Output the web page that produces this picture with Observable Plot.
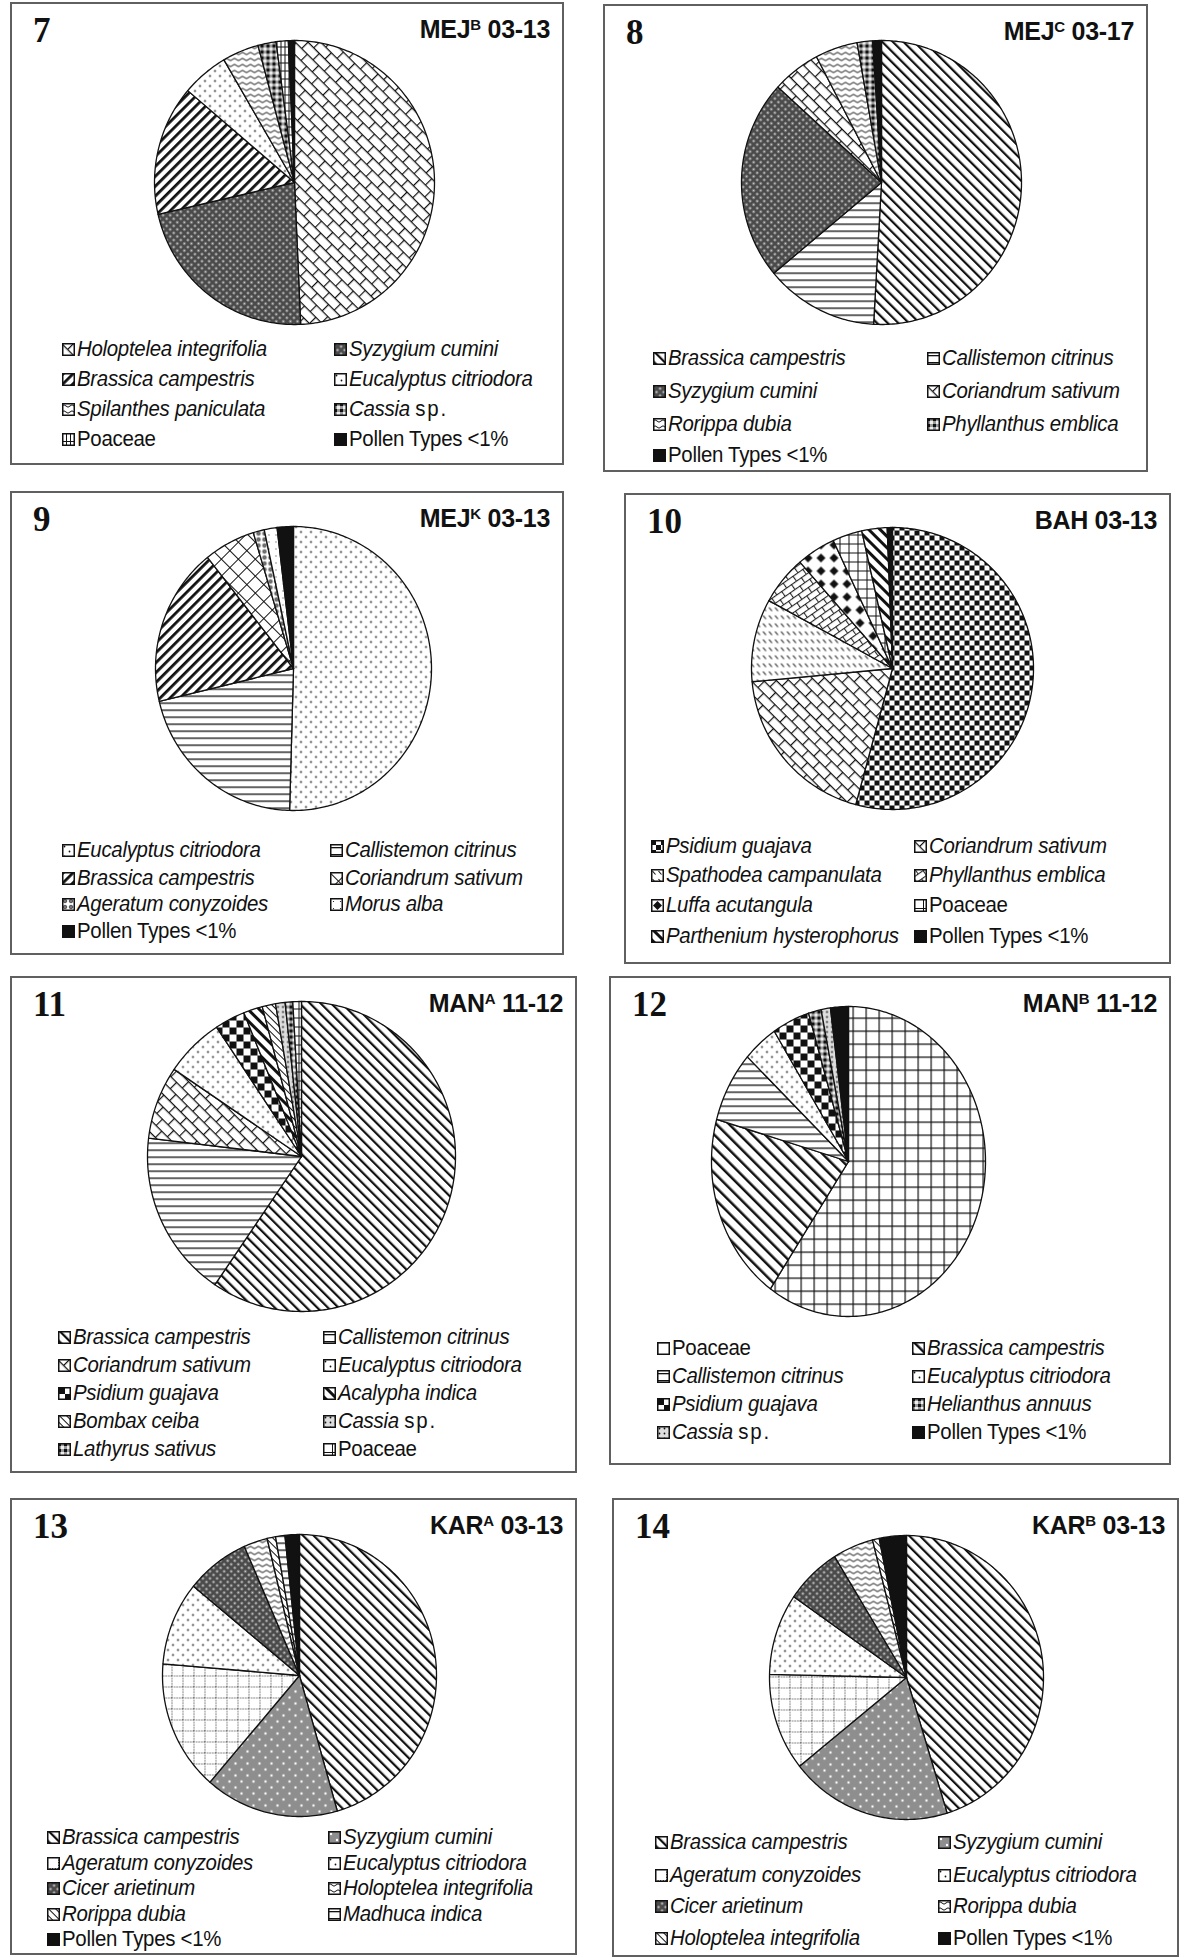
<!DOCTYPE html>
<html>
<head>
<meta charset="utf-8">
<script src="https://cdn.jsdelivr.net/npm/d3@7"></script>
<script src="https://cdn.jsdelivr.net/npm/@observablehq/plot@0.6"></script>
<style>
  body { margin: 0; background: #fff; }
  #page { position: relative; width: 1195px; height: 1957px; background: #fff; overflow: hidden; }
  .box { position: absolute; box-sizing: border-box; border: 2px solid #606060; background: #fff; }
  .num { position: absolute; font-family: "Liberation Serif", "Times New Roman", serif; font-weight: bold; font-size: 35px; line-height: 1; color: #111; }
  .site { position: absolute; font-family: "Liberation Sans", Arial, sans-serif; font-weight: bold; font-size: 25px; line-height: 1; color: #111; white-space: nowrap; letter-spacing: -0.3px; }
  .site sup { font-size: 15px; vertical-align: 0; position: relative; top: -8px; }
  .pie { position: absolute; }
  .leg { position: absolute; display: flex; align-items: center; white-space: nowrap; font-family: "Liberation Sans", Arial, sans-serif; font-size: 21.5px; color: #111; line-height: 1; }
  .leg svg { flex: none; margin-right: 2px; }
  .leg .txt { display: inline-block; transform: scaleX(0.95); transform-origin: 0 50%; letter-spacing: -0.3px; }
  .leg .sp { font-style: normal; letter-spacing: 2px; }
</style>
</head>
<body>
<div id="page"></div>
<script>
// ---------------- DATA ----------------
const panelNumbers = ["7", "8", "9", "10", "11", "12", "13", "14"];
const siteCodes = ["MEJ", "MEJ", "MEJ", "BAH", "MAN", "MAN", "KAR", "KAR"];
const siteSuperscripts = ["B", "C", "K", "", "A", "B", "A", "B"];
const periods = ["03-13", "03-17", "03-13", "03-13", "11-12", "11-12", "03-13", "03-13"];

const p7Taxa = ["Holoptelea integrifolia", "Syzygium cumini", "Brassica campestris", "Eucalyptus citriodora", "Spilanthes paniculata", "Cassia sp.", "Poaceae", "Pollen Types <1%"];
const p7Percent = [49.3, 22.1, 14.8, 5.4, 4.2, 2.1, 1.4, 0.7];

const p8Taxa = ["Brassica campestris", "Callistemon citrinus", "Syzygium cumini", "Coriandrum sativum", "Rorippa dubia", "Phyllanthus emblica", "Pollen Types <1%"];
const p8Percent = [51.0, 13.1, 22.8, 5.6, 4.9, 1.8, 1.0];

const p9Taxa = ["Eucalyptus citriodora", "Callistemon citrinus", "Brassica campestris", "Coriandrum sativum", "Ageratum conyzoides", "Morus alba", "Pollen Types <1%"];
const p9Percent = [50.4, 20.8, 18.0, 6.0, 1.3, 1.5, 1.9];

const p10Taxa = ["Psidium guajava", "Coriandrum sativum", "Spathodea campanulata", "Phyllanthus emblica", "Luffa acutangula", "Poaceae", "Parthenium hysterophorus", "Pollen Types <1%"];
const p10Percent = [54.2, 19.3, 9.5, 5.6, 4.5, 3.4, 2.9, 0.6];

const p11Taxa = ["Brassica campestris", "Callistemon citrinus", "Coriandrum sativum", "Eucalyptus citriodora", "Psidium guajava", "Acalypha indica", "Bombax ceiba", "Cassia sp.", "Lathyrus sativus", "Poaceae"];
const p11Percent = [59.5, 17.4, 7.6, 6.2, 3.2, 2.0, 1.4, 1.0, 0.8, 0.9];

const p12Taxa = ["Poaceae", "Brassica campestris", "Callistemon citrinus", "Eucalyptus citriodora", "Psidium guajava", "Helianthus annuus", "Cassia sp.", "Pollen Types <1%"];
const p12Percent = [59.6, 19.7, 7.4, 4.1, 4.4, 1.5, 1.1, 2.1];

const p13Taxa = ["Brassica campestris", "Syzygium cumini", "Ageratum conyzoides", "Eucalyptus citriodora", "Cicer arietinum", "Holoptelea integrifolia", "Rorippa dubia", "Madhuca indica", "Pollen Types <1%"];
const p13Percent = [45.6, 15.8, 15.0, 9.6, 7.5, 2.8, 1.0, 1.1, 1.7];

const p14Taxa = ["Brassica campestris", "Syzygium cumini", "Ageratum conyzoides", "Eucalyptus citriodora", "Cicer arietinum", "Rorippa dubia", "Holoptelea integrifolia", "Pollen Types <1%"];
const p14Percent = [45.3, 19.1, 11.1, 9.3, 6.6, 4.8, 0.8, 3.2];

// ---------------- STYLES (fill patterns per slice) ----------------
const p7Fills = ["brick", "crossDark", "diagUpBold", "dots", "wavy", "checkGrey", "gridSmall", "black"];
const p8Fills = ["diagDown", "hlines", "crossDark", "brick", "wavy", "checkGrey", "black"];
const p9Fills = ["dots", "hlines", "diagUpBold", "lattice", "circles", "sparse", "black"];
const p10Fills = ["checkSmall", "brick", "dashes", "brickSmall", "diamonds", "grid", "diagDownBold", "black"];
const p11Fills = ["diagDown", "hlines", "brick", "dots", "checker", "diagDownBold", "diagDownThin", "dotCol", "checkGrey", "grid"];
const p12Fills = ["gridLarge", "diagDownWide", "hlines", "dots", "checker", "checkGrey", "dotCol", "black"];
const p13Fills = ["diagDown", "greyDots", "dotGrid", "dots", "crossDark", "wavy", "diagDownThin", "hlines", "black"];
const p14Fills = ["diagDown", "greyDots", "dotGrid", "dots", "crossDark", "wavy", "diagDownThin", "black"];

// ---------------- LAYOUT ----------------
const boxes = [
  [10, 2, 554, 463], [603, 4, 545, 468],
  [10, 491, 554, 464], [624, 493, 547, 471],
  [10, 976, 567, 497], [609, 976, 562, 489],
  [10, 1498, 567, 457], [612, 1498, 567, 459]
];
const pieGeom = [
  [282, 178, 140, 142], [276, 176, 140, 142],
  [281, 175, 138, 142], [266, 173, 141, 141],
  [289, 178, 154, 155], [237, 183, 137, 155],
  [287, 175, 137, 141], [292, 177, 137, 142]
];
const legendRows = [
  [346, 376, 406, 436], [353, 386, 419, 450],
  [358, 386, 412, 439], [352, 381, 411, 442],
  [360, 388, 416, 444, 472], [371, 399, 427, 455],
  [338, 364, 389, 415, 440], [343, 376, 407, 439]
];
const legendCols = [[50, 322], [48, 322], [50, 318], [25, 288], [46, 311], [46, 301], [35, 316], [41, 324]];

// ---------------- PATTERNS ----------------
function pat(id, w, h, content, transform) {
  return `<pattern id="${id}" width="${w}" height="${h}" patternUnits="userSpaceOnUse"${transform ? ` patternTransform="${transform}"` : ""}><rect width="${w}" height="${h}" fill="#fff"/>${content}</pattern>`;
}
const K = "#111";
const patternDefs = [
  pat("brick", 16, 18, `<path d="M0 0.6H16M0 9.6H16M0.6 0V9M8.6 9V18" stroke="${K}" stroke-width="1.2" fill="none"/>`, "rotate(45)"),
  pat("brickSmall", 12, 12, `<path d="M0 0.6H12M0 6.6H12M0.6 0V6M6.6 6V12" stroke="${K}" stroke-width="1" fill="none"/>`, "rotate(-35)"),
  pat("crossDark", 5, 5, `<rect width="5" height="5" fill="#4a4a4a"/><rect x="1.5" y="1.5" width="2" height="2" fill="#d0d0d0"/>`, "rotate(45)"),
  pat("diagUpBold", 7, 7, `<rect width="2.8" height="7" fill="${K}"/>`, "rotate(45)"),
  pat("diagDown", 7.5, 7.5, `<rect width="2.2" height="7.5" fill="${K}"/>`, "rotate(-45)"),
  pat("diagDownWide", 9, 9, `<rect width="2.5" height="9" fill="${K}"/>`, "rotate(-45)"),
  pat("diagDownBold", 8, 8, `<rect width="3" height="8" fill="${K}"/>`, "rotate(-45)"),
  pat("diagDownThin", 5, 5, `<rect width="1" height="5" fill="${K}"/>`, "rotate(-45)"),
  pat("dots", 10, 10, `<circle cx="2.5" cy="2.5" r="0.9" fill="${K}"/><circle cx="7.5" cy="7.5" r="0.9" fill="${K}"/>`),
  pat("sparse", 7, 7, `<circle cx="3.5" cy="3.5" r="0.6" fill="${K}"/>`),
  pat("wavy", 8, 6, `<path d="M0 3 Q2 0.6 4 3 T8 3" fill="none" stroke="${K}" stroke-width="1"/>`),
  pat("hlines", 8, 7, `<rect y="3" width="8" height="1.3" fill="${K}"/>`),
  pat("grid", 9, 9, `<path d="M0 0.5H9M0.5 0V9" stroke="${K}" stroke-width="1" fill="none"/>`),
  pat("gridLarge", 13, 13, `<path d="M0 0.6H13M0.6 0V13" stroke="${K}" stroke-width="1.2" fill="none"/>`),
  pat("gridSmall", 4, 8, `<path d="M0 0.5H4M0.5 0V8" stroke="${K}" stroke-width="1" fill="none"/>`),
  pat("checker", 14, 14, `<rect width="7" height="7" fill="${K}"/><rect x="7" y="7" width="7" height="7" fill="${K}"/>`),
  pat("checkSmall", 10, 10, `<rect width="5" height="5" fill="${K}"/><rect x="5" y="5" width="5" height="5" fill="${K}"/>`),
  pat("checkGrey", 6, 6, `<rect width="6" height="6" fill="#9a9a9a"/><rect width="3" height="3" fill="${K}"/><rect x="3" y="3" width="3" height="3" fill="#eee"/>`),
  pat("diamonds", 13, 13, `<polygon points="6.5,2 11,6.5 6.5,11 2,6.5" fill="${K}"/>`),
  pat("dashes", 6, 8, `<line x1="1.5" y1="2" x2="4.5" y2="5.5" stroke="${K}" stroke-width="1.1"/>`),
  pat("lattice", 12, 12, `<path d="M0 0.5H12M0.5 0V12" stroke="${K}" stroke-width="1" fill="none"/>`, "rotate(45)"),
  pat("circles", 6, 6, `<circle cx="3" cy="3" r="1.8" fill="#777" stroke="${K}" stroke-width="0.6"/>`),
  pat("dotCol", 5, 5, `<rect width="5" height="5" fill="#ddd"/><circle cx="2.5" cy="2.5" r="0.9" fill="${K}"/>`),
  pat("greyDots", 12, 12, `<rect width="12" height="12" fill="#8e8e8e"/><circle cx="3" cy="3" r="1.2" fill="#fff"/><circle cx="9" cy="9" r="1.2" fill="#fff"/>`),
  pat("dotGrid", 11, 11, `<path d="M0 0.5H11M0.5 0V11" stroke="${K}" stroke-width="1" stroke-dasharray="1 1.6" fill="none"/>`),
  pat("black", 4, 4, `<rect width="4" height="4" fill="${K}"/>`)
].join("");

document.body.insertAdjacentHTML("afterbegin",
  `<svg width="0" height="0" style="position:absolute;left:0;top:0"><defs>${patternDefs}</defs></svg>`);

// ---------------- BUILD ----------------
const panels = [
  [p7Taxa, p7Percent, p7Fills], [p8Taxa, p8Percent, p8Fills],
  [p9Taxa, p9Percent, p9Fills], [p10Taxa, p10Percent, p10Fills],
  [p11Taxa, p11Percent, p11Fills], [p12Taxa, p12Percent, p12Fills],
  [p13Taxa, p13Percent, p13Fills], [p14Taxa, p14Percent, p14Fills]
];

const page = document.getElementById("page");

function labelHTML(name) {
  if (name === "Poaceae" || name.startsWith("Pollen")) return name.replace("<", "&lt;");
  if (name.endsWith(" sp.")) return `<i>${name.slice(0, -4)}</i> <span class="sp">sp.</span>`;
  return `<i>${name}</i>`;
}

panels.forEach(([taxa, values, fills], i) => {
  const [bx, by, bw, bh] = boxes[i];
  const box = document.createElement("div");
  box.className = "box";
  Object.assign(box.style, {left: bx + "px", top: by + "px", width: bw + "px", height: bh + "px"});
  page.appendChild(box);

  const num = document.createElement("div");
  num.className = "num";
  num.textContent = panelNumbers[i];
  Object.assign(num.style, {left: "21px", top: "9px"});
  box.appendChild(num);

  const site = document.createElement("div");
  site.className = "site";
  site.innerHTML = `${siteCodes[i]}${siteSuperscripts[i] ? `<sup>${siteSuperscripts[i]}</sup>` : ""} ${periods[i]}`;
  Object.assign(site.style, {right: "12px", top: "13px"});
  box.appendChild(site);

  // pie slices from d3.pie (clockwise from 12 o'clock)
  const arcs = d3.pie().sort(null).value(d => d)(values);
  const pts = [];
  arcs.forEach((a, j) => {
    const name = taxa[j], fill = `url(#${fills[j]})`;
    pts.push({name, fill, x: 0, y: 0});
    const n = Math.max(2, Math.ceil((a.endAngle - a.startAngle) / (Math.PI / 180)));
    for (let k = 0; k <= n; k++) {
      const t = a.startAngle + (a.endAngle - a.startAngle) * k / n;
      pts.push({name, fill, x: Math.sin(t), y: Math.cos(t)});
    }
    pts.push({name, fill, x: 0, y: 0});
  });

  const [cx, cy, rx, ry] = pieGeom[i];
  const m = 2;
  const chart = Plot.plot({
    width: 2 * rx + 2 * m,
    height: 2 * ry + 2 * m,
    margin: m,
    x: {domain: [-1, 1], axis: null},
    y: {domain: [-1, 1], axis: null},
    color: {type: "identity"},
    style: {background: "transparent", overflow: "visible"},
    marks: [
      Plot.line(pts, {x: "x", y: "y", z: "name", fill: "fill", stroke: "#111", strokeWidth: 1.3, strokeLinejoin: "round"})
    ]
  });
  chart.classList.add("pie");
  Object.assign(chart.style, {left: (cx - rx - m) + "px", top: (cy - ry - m) + "px"});
  box.appendChild(chart);

  // legend (row-major, two columns)
  taxa.forEach((name, j) => {
    const row = Math.floor(j / 2), col = j % 2;
    const item = document.createElement("div");
    item.className = "leg";
    item.innerHTML = `<svg width="13" height="13"><rect x="0.75" y="0.75" width="11.5" height="11.5" fill="url(#${fills[j]})" stroke="#111" stroke-width="1.5"/></svg><span class="txt">${labelHTML(name)}</span>`;
    Object.assign(item.style, {left: legendCols[i][col] + "px", top: (legendRows[i][row] - 11) + "px"});
    box.appendChild(item);
  });
});
</script>
</body>
</html>
